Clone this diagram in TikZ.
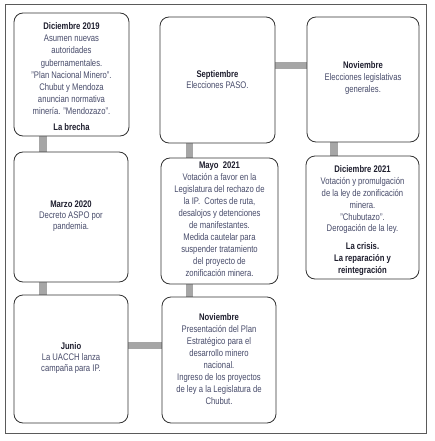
\documentclass[tikz,border=0pt]{standalone}
\usepackage{fontspec}
\setmainfont[FakeStretch=0.8]{Liberation Sans}
\usetikzlibrary{backgrounds}
\definecolor{bodytxt}{HTML}{474B6A}
\definecolor{titletxt}{HTML}{1E1E2E}
\definecolor{barc}{HTML}{A6A6A6}
\definecolor{boxline}{HTML}{333333}
\definecolor{frameline}{HTML}{5A5A5A}
\newcommand{\ttl}[1]{{\bfseries\color{titletxt}#1}}
\begin{document}
\begin{tikzpicture}[x=1pt,y=-1pt,
  evbox/.style={draw=boxline, line width=0.8pt, rounded corners=9pt, fill=white, inner sep=0pt},
  evtext/.style={anchor=north, align=center, inner sep=0pt, text=bodytxt, font=\fontsize{9.6}{12}\selectfont},
  bar/.style={draw=barc, line width=7.5pt},
]
\useasboundingbox (0,0) rectangle (434,441);
\draw[frameline, line width=0.9pt] (5,4) rectangle (426,433);

% boxes
\node[evbox, minimum width=115pt, minimum height=123pt] (A) at (71.5,74.5) {};
\node[evbox, minimum width=115pt, minimum height=126pt] (B) at (217.5,80) {};
\node[evbox, minimum width=112pt, minimum height=125pt] (C) at (363,79.5) {};
\node[evbox, minimum width=114pt, minimum height=130pt] (D) at (71,217) {};
\node[evbox, minimum width=117pt, minimum height=126pt] (E) at (219.5,221) {};
\node[evbox, minimum width=113pt, minimum height=123pt] (F) at (362.5,217.5) {};
\node[evbox, minimum width=114pt, minimum height=128pt] (G) at (71,359) {};
\node[evbox, minimum width=114pt, minimum height=126pt] (H) at (219,360) {};

% texts
\node[evtext, font=\fontsize{9.6}{12.2}\selectfont] (At) at (71.5,22.4) {\ttl{Diciembre 2019}\\Asumen nuevas\\autoridades\\gubernamentales.\\"Plan Nacional Minero".\\Chubut y Mendoza\\anuncian normativa\\minería. "Mendozazo".\\[3.8pt]\ttl{La brecha}};
\node[evtext, font=\fontsize{9.6}{10.6}\selectfont] (Bt) at (217.5,70.4) {\ttl{Septiembre}\\Elecciones PASO.};
\node[evtext] (Ct) at (363,61.4) {\ttl{Noviembre}\\Elecciones legislativas\\generales.};
\node[evtext, font=\fontsize{9.6}{11}\selectfont] (Dt) at (71,200.8) {\ttl{Marzo 2020}\\Decreto ASPO por\\pandemia.};
\node[evtext] (Et) at (219.5,161.4) {\ttl{Mayo\ \ 2021}\\Votación a favor en la\\Legislatura del rechazo de\\la IP.\ \ Cortes de ruta,\\desalojos y detenciones\\de manifestantes.\\Medida cautelar para\\suspender tratamiento\\del proyecto de\\zonificación minera.};
\node[evtext, font=\fontsize{9.6}{11.8}\selectfont] (Ft) at (362.5,165.8) {\ttl{Diciembre 2021}\\Votación y promulgación\\de la ley de zonificación\\minera.\\"Chubutazo".\\Derogación de la ley.\\[6pt]\ttl{La crisis.}\\\ttl{La reparación y}\\\ttl{reintegración}};
\node[evtext, font=\fontsize{9.6}{10.8}\selectfont] (Gt) at (71,342.6) {\ttl{Junio}\\La UACCH lanza\\campaña para IP.};
\node[evtext] (Ht) at (219,313.2) {\ttl{Noviembre}\\Presentación del Plan\\Estratégico para el\\desarrollo minero\\nacional.\\Ingreso de los proyectos\\de ley a la Legislatura de\\Chubut.};

% connector guides
\coordinate (xAD) at (43,0);
\coordinate (xBE) at (189.5,0);
\coordinate (xCF) at (334,0);
\coordinate (yBC) at (0,65.5);
\coordinate (yGH) at (0,345.5);

\begin{scope}[on background layer]
\draw[bar] (A.center -| xAD) -- (D.center -| xAD);
\draw[bar] (D.center -| xAD) -- (G.center -| xAD);
\draw[bar] (B.center -| xBE) -- (E.center -| xBE);
\draw[bar] (E.center -| xBE) -- (H.center -| xBE);
\draw[bar] (C.center -| xCF) -- (F.center -| xCF);
\draw[bar] (B.center |- yBC) -- (C.center |- yBC);
\draw[bar] (G.center |- yGH) -- (H.center |- yGH);
\end{scope}
\end{tikzpicture}
\end{document}
